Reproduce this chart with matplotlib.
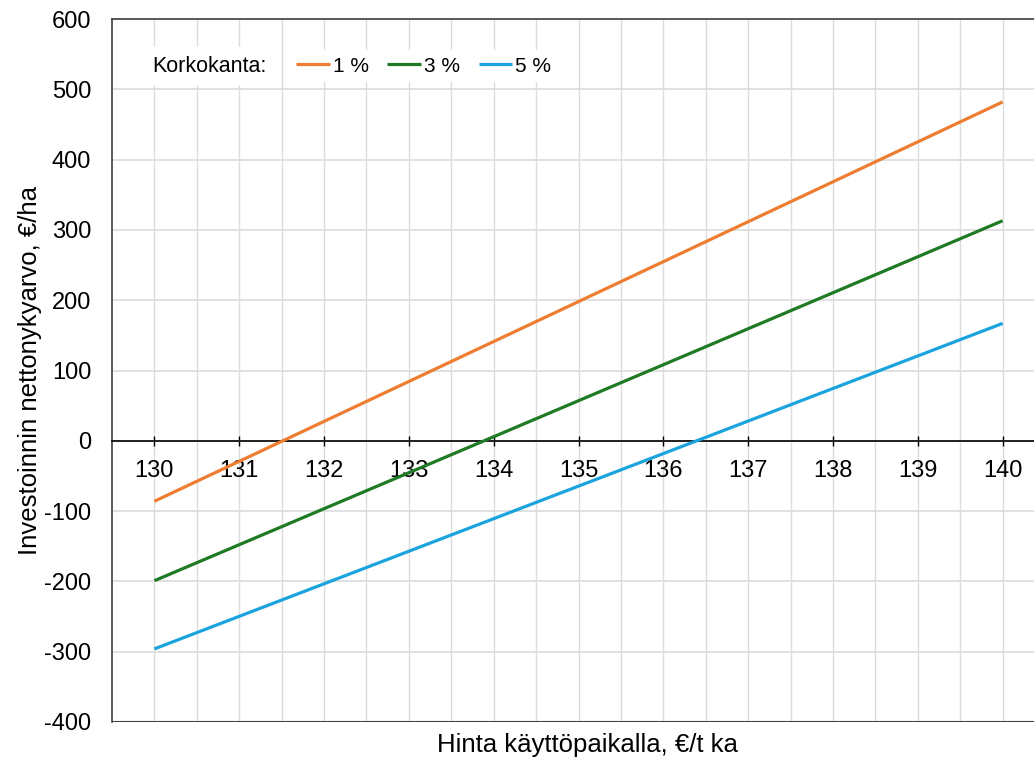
import matplotlib.pyplot as plt

plt.rcParams['font.family'] = ['Liberation Sans', 'DejaVu Sans']

# Hinta käyttöpaikalla (€/t ka) ja nettonykyarvo (€/ha) korkokannoittain
hinta = [130, 140]
npv_1 = [-86, 482]
npv_3 = [-199, 313]
npv_5 = [-296, 167]

sarjat = ['1 %', '3 %', '5 %']
varit = ['#ED7D31', '#1E7B23', '#1AA3DD']

x_ticks = list(range(130, 141))
y_ticks = list(range(-400, 601, 100))

W, H = 1034, 763
fig = plt.figure(figsize=(W / 100, H / 100), dpi=100)
ax = fig.add_axes([112 / W, 1 - 722 / H, (1045 - 112) / W, (722 - 19) / H])

for vals, lab, c in zip([npv_1, npv_3, npv_5], sarjat, varit):
    ax.plot(hinta, vals, color=c, lw=2.3, label=lab, solid_capstyle='butt', zorder=3)

ax.set_xlim(129.5, 140.5)
ax.set_ylim(-400, 600)

# pystyruudukko puolen yksikön välein
for gx in [130 + 0.5 * i for i in range(21)]:
    ax.axvline(gx, color='#dcdcdc', lw=1, zorder=0)
ax.set_yticks(y_ticks)
ax.set_yticklabels([str(v) for v in y_ticks], fontsize=17)
ax.yaxis.grid(True, color='#dcdcdc', lw=1.2, zorder=0)
ax.set_axisbelow(True)
ax.tick_params(axis='y', length=0, pad=15)

# x-akseli nollatasolle
ax.spines['bottom'].set_position(('data', 0))
ax.spines['bottom'].set_color('black')
ax.spines['bottom'].set_linewidth(1.2)
ax.set_xticks(x_ticks)
ax.set_xticklabels([str(v) for v in x_ticks], fontsize=17)
ax.tick_params(axis='x', direction='inout', length=7, width=1, pad=10)
ax.axhline(-400, color='#404040', lw=1.5, zorder=2)
ax.spines['right'].set_visible(False)
for s in ['left', 'top']:
    ax.spines[s].set_color('#404040')
    ax.spines[s].set_linewidth(1.2)

ax.set_xlabel('Hinta käyttöpaikalla, €/t ka', fontsize=18.5, va='top')
ax.xaxis.set_label_coords((587 - 112) / 933, (722 - 733) / 703)
ax.set_ylabel('Investoinnin nettonykyarvo, €/ha', fontsize=18.5)
ax.yaxis.set_label_coords(-(112 - 42) / 933, 0.5)

fig.text(152 / W, 1 - 66 / H, 'Korkokanta:', fontsize=15.5, va='center', ha='left',
         bbox=dict(facecolor='white', edgecolor='none', pad=6), zorder=5)
leg = ax.legend(loc='center left', bbox_to_anchor=(290 / W, 1 - 66 / H),
                bbox_transform=fig.transFigure, ncol=3, fontsize=15, frameon=True,
                fancybox=False, edgecolor='none', framealpha=1, borderaxespad=0,
                borderpad=0.3, handlelength=1.6, handletextpad=0.15, columnspacing=0.9)

fig.savefig('out.png', dpi=100)
